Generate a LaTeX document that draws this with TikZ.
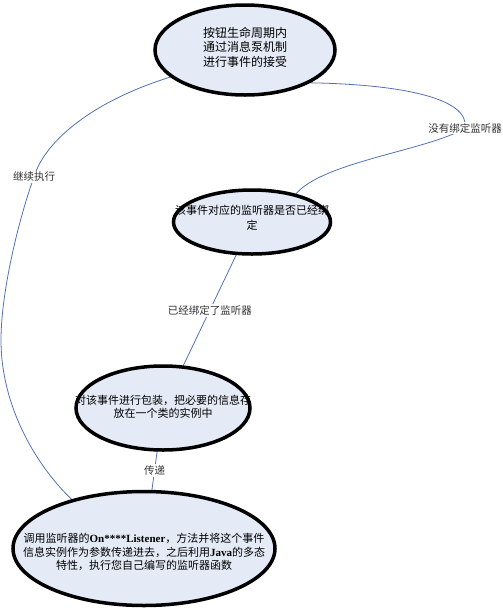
\documentclass[tikz,border=0pt]{standalone}
\usepackage{fontspec}
\setmainfont{Noto Sans CJK SC}
\newfontfamily\tnr{Liberation Serif}
\usetikzlibrary{shapes.geometric,backgrounds}
\definecolor{bubfill}{RGB}{228,234,246}
\definecolor{linkblue}{RGB}{84,114,176}
\definecolor{lbltext}{RGB}{50,50,50}
\newcommand\bubtext[2]{\makebox[0pt]{\raisebox{#1}[0pt][0pt]{\begin{tabular}{@{}c@{}}#2\end{tabular}}}}
\begin{document}
\begin{tikzpicture}[x=1pt,y=-1pt,
  bubble/.style={ellipse,fill=bubfill,inner sep=0pt,outer sep=0pt,text=black},
  rim/.style={draw=black,line width=3.5pt},
  link/.style={draw=linkblue,line width=0.8pt},
  lbl/.style={fill=white,inner sep=1.5pt,text=lbltext,font=\fontsize{10.5}{12}\selectfont}]
\useasboundingbox (0,0) rectangle (503,614);
% ellipses
\node[bubble,minimum width=180pt,minimum height=90pt,font=\fontsize{12}{14.5}\selectfont] (e1) at (245,50)
  {\bubtext{-2pt}{按钮生命周期内\\通过消息泵机制\\进行事件的接受}};
\node[bubble,minimum width=157pt,minimum height=64pt,font=\fontsize{11}{14.5}\selectfont] (e2) at (252,222)
  {\bubtext{0pt}{该事件对应的监听器是否已经绑\\定}};
\node[bubble,minimum width=174pt,minimum height=84pt,font=\fontsize{11}{13.5}\selectfont] (e3) at (163,408)
  {\bubtext{-3pt}{对该事件进行包装，把必要的信息存\\放在一个类的实例中}};
\node[bubble,minimum width=262pt,minimum height=114pt,font=\fontsize{11}{13.5}\selectfont] (e4) at (144,548.5)
  {\bubtext{-8pt}{调用监听器的{\tnr\bfseries On****Listener}，方法并将这个事件\\信息实例作为参数传递进去，之后利用{\tnr\bfseries Java}的多态\\特性，执行您自己编写的监听器函数}};
% rims on top of the text
\draw[rim] (e1.center) ellipse [x radius=90pt,y radius=45pt];
\draw[rim] (e2.center) ellipse [x radius=78.5pt,y radius=32pt];
\draw[rim] (e3.center) ellipse [x radius=87pt,y radius=42pt];
\draw[rim] (e4.center) ellipse [x radius=131pt,y radius=57pt];
% label positions
\coordinate (p1) at (465,128);
\coordinate (p4) at (34,177);
\coordinate (bendL) at (1,340);
% connectors
\begin{scope}[on background layer]
\draw[link] (e1.-28) .. controls (400,84) and (470,98) .. (p1)
  .. controls (430,150) and (320,162) .. (e2.32);
\draw[link] (e2) -- node[lbl] (l2) {已经绑定了监听器} (e3);
\draw[link] (e3) -- node[lbl] (l3) {传递} (e4);
\draw[link] (e4.146) .. controls (40,470) and (1,410) .. (bendL)
  .. controls (1,290) and (20,215) .. (p4)
  .. controls (45,140) and (95,100) .. (e1.200);
\end{scope}
\node[lbl] (l1) at (p1) {没有绑定监听器};
\node[lbl] (l4) at (p4) {继续执行};
\end{tikzpicture}
\end{document}
